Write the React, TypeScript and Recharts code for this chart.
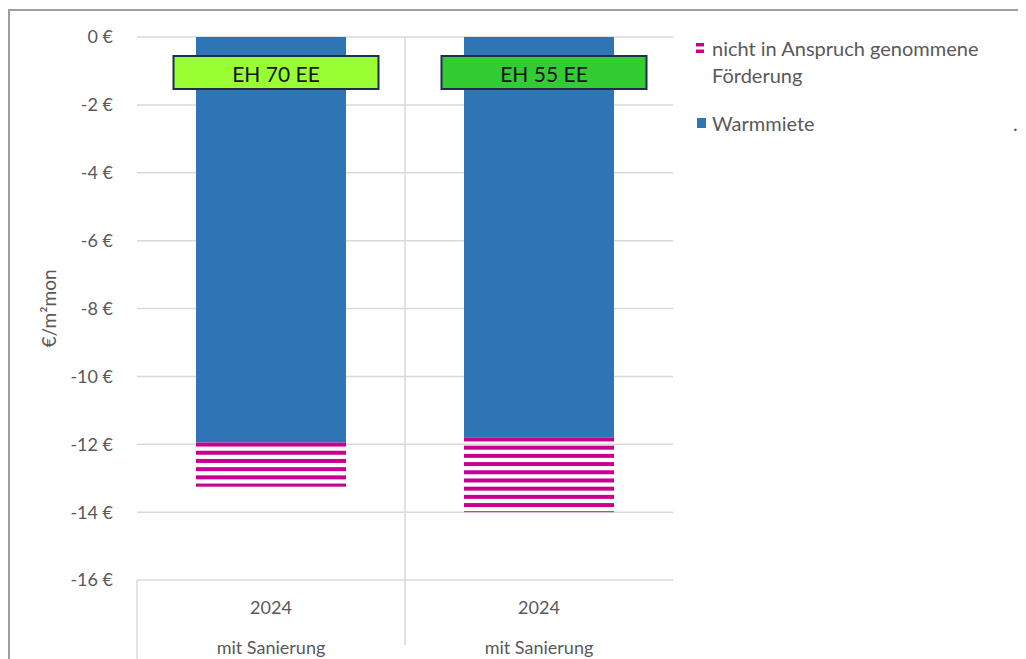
import React from 'react';
import { BarChart, Bar, XAxis, YAxis, CartesianGrid, Legend, LabelList } from 'recharts';

// ---------- data ----------
const categories = ['EH 70 EE', 'EH 55 EE'];
const years = ['2024', '2024'];
const groups = ['mit Sanierung', 'mit Sanierung'];
const warmmiete = [-11.95, -11.8];
const foerderung = [-1.3, -2.2];
const yTicks = [0, -2, -4, -6, -8, -10, -12, -14, -16];
const legendLines = [['nicht in Anspruch genommene', 'Förderung'], ['Warmmiete']];
const yAxisTitle = '€/m²mon';

const data = categories.map((c, i) => ({ id: c, warm: warmmiete[i], foerd: foerderung[i] }));

// ---------- styles ----------
const FONT = 'Lato, "Noto Sans", sans-serif';
const BLUE = '#2E75B6';
const MAGENTA = '#C8008F';
const GRID = '#D9D9D9';
const TEXT = '#595959';
const boxFills = ['#99FF33', '#33CC33'];
const W = 1018;
const H = 651;
const margin = { top: 29, right: 353, bottom: 0, left: 0 };
const Y_W = 129;
const X_H = 79;
const PLOT_W = W - margin.left - margin.right - Y_W;

const StripeShape = (props: any) => {
  const { x, y, width, height } = props;
  const top = Math.min(y, y + height);
  const h = Math.abs(height);
  const period = 8.2;
  const thick = 4;
  const rects: React.ReactNode[] = [];
  for (let s = 0; s < h - 0.5; s += period) {
    rects.push(
      <rect key={s} x={x} y={top + s} width={width} height={Math.min(thick, h - s)} fill={MAGENTA} />
    );
  }
  return <g>{rects}</g>;
};

const BoxLabel = (props: any) => {
  const { x, y, width, height, index, value } = props;
  const top = Math.min(y, y + height);
  const cx = x + width / 2 + 5;
  const bw = 205;
  const bh = 33;
  const by = top + 19;
  return (
    <g>
      <rect x={cx - bw / 2} y={by} width={bw} height={bh} fill={boxFills[index % boxFills.length]} stroke="#1F2D4D" strokeWidth={2} />
      <text x={cx} y={by + bh / 2 + 1} textAnchor="middle" dominantBaseline="central" fontSize={21} fill="#141414" fontFamily={FONT}>
        {value}
      </text>
    </g>
  );
};

const CatTick = (props: any) => {
  const { x, y, payload } = props;
  const i = payload?.index ?? props.index ?? 0;
  const half = typeof payload?.offset === 'number' && payload.offset > 0 ? payload.offset : PLOT_W / categories.length / 2;
  const bx = x - half;
  const lineTop = i === 0 ? y : margin.top;
  const lineBottom = i === 0 ? H : y + 65;
  return (
    <g>
      <line x1={bx} x2={bx} y1={lineTop} y2={lineBottom} stroke={GRID} strokeWidth={1.5} />
      <text x={x} y={y + 27} textAnchor="middle" dominantBaseline="central" fontSize={18} fill={TEXT} fontFamily={FONT}>
        {years[i]}
      </text>
      <text x={x} y={y + 67} textAnchor="middle" dominantBaseline="central" fontSize={18} fill={TEXT} fontFamily={FONT}>
        {groups[i]}
      </text>
    </g>
  );
};

const YTitle = (props: any) => {
  const vb = props.viewBox || { x: 0, y: margin.top, width: Y_W, height: 543 };
  const cx = vb.x + 40;
  const cy = vb.y + vb.height / 2;
  return (
    <text x={cx} y={cy} transform={`rotate(-90 ${cx} ${cy})`} textAnchor="middle" dominantBaseline="central" fontSize={19} fill={TEXT} fontFamily={FONT}>
      {yAxisTitle}
    </text>
  );
};

const renderLegend = () => (
  <svg width={338} height={120} style={{ display: 'block', overflow: 'visible' }}>
    <rect x={8} y={15} width={8} height={3.5} fill={MAGENTA} />
    <rect x={8} y={21.5} width={8} height={3.5} fill={MAGENTA} />
    <text x={24} y={20} dominantBaseline="central" fontSize={20} fill={TEXT} fontFamily={FONT}>{legendLines[0][0]}</text>
    <text x={24} y={47} dominantBaseline="central" fontSize={20} fill={TEXT} fontFamily={FONT}>{legendLines[0][1]}</text>
    <rect x={9} y={90} width={9} height={10} fill={BLUE} />
    <text x={24} y={95} dominantBaseline="central" fontSize={20} fill={TEXT} fontFamily={FONT}>{legendLines[1][0]}</text>
    <text x={325} y={95} dominantBaseline="central" fontSize={20} fill={TEXT} fontFamily={FONT}>.</text>
  </svg>
);

export default function App() {
  return (
    <div style={{ position: 'relative', width: W, height: H, fontFamily: FONT, background: '#fff' }}>
      <BarChart width={W} height={H} data={data} margin={margin} barSize={150}>
        <CartesianGrid vertical={false} stroke={GRID} strokeWidth={1.5} />
        <XAxis
          dataKey="id"
          height={X_H}
          interval={0}
          tickLine={false}
          axisLine={false}
          tickSize={0}
          tickMargin={0}
          tick={<CatTick />}
        />
        <YAxis
          type="number"
          domain={[-16, 0]}
          ticks={yTicks}
          interval={0}
          width={Y_W}
          tickLine={false}
          axisLine={false}
          tickSize={0}
          tickMargin={24}
          tick={{ fill: TEXT, fontSize: 18, fontFamily: FONT }}
          tickFormatter={(v: number) => `${v} €`}
          label={<YTitle />}
        />
        <Legend
          layout="vertical"
          align="center"
          verticalAlign="middle"
          content={renderLegend}
          wrapperStyle={{ left: 680, top: 20, width: 338, height: 120 }}
        />
        <Bar dataKey="warm" name="Warmmiete" stackId="a" fill={BLUE} isAnimationActive={false}>
          <LabelList dataKey="id" content={<BoxLabel />} />
        </Bar>
        <Bar
          dataKey="foerd"
          name="nicht in Anspruch genommene Förderung"
          stackId="a"
          fill={MAGENTA}
          shape={<StripeShape />}
          isAnimationActive={false}
        />
      </BarChart>
      <div style={{ position: 'absolute', left: 0, top: 1, width: W, height: 2, background: '#A0A0A0' }} />
      <div style={{ position: 'absolute', left: 0, top: 1, width: 2, height: H, background: '#A0A0A0' }} />
    </div>
  );
}
